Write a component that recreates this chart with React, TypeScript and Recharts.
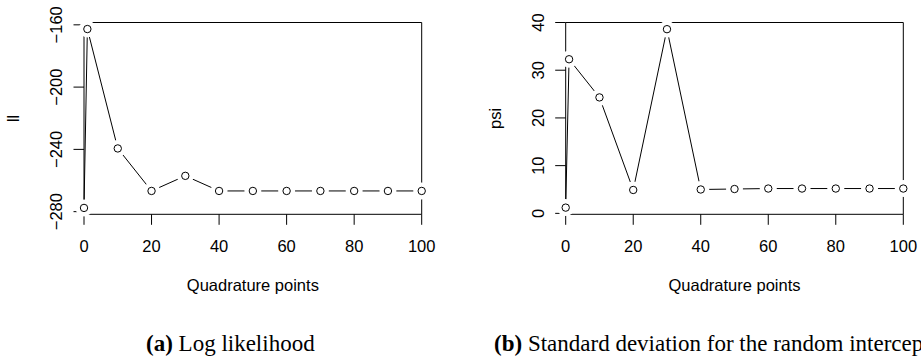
import React from "react";
import {
  LineChart,
  Line,
  XAxis,
  YAxis,
  ReferenceArea,
} from "recharts";

// quadrature points and the two fitted quantities
const quadPoints = [0, 1, 10, 20, 30, 40, 50, 60, 70, 80, 90, 100];
const logLik = [
  -277.6, -162.7, -239.4, -266.7, -257.0, -266.7, -266.7, -266.7, -266.7,
  -266.7, -266.7, -266.7,
];
const psiValues = [1.2, 32.3, 24.3, 4.9, 38.6, 5.0, 5.1, 5.2, 5.2, 5.2, 5.2, 5.2];

const xTicks = [0, 20, 40, 60, 80, 100];
const llTicks = [-280, -240, -200, -160];
const psiTicks = [0, 10, 20, 30, 40];

const FS = 16.5;

const fmt = (v: number) => String(v).replace("-", "\u2212");

// open circle with a white gap round it, like R's type = "b"
const OpenDot = (props: any) => {
  const { cx, cy } = props;
  if (cx == null || cy == null) return null;
  return (
    <g>
      <circle cx={cx} cy={cy} r={8.5} fill="#fff" />
      <circle cx={cx} cy={cy} r={3.7} fill="none" stroke="#000" strokeWidth={1} />
    </g>
  );
};

const RotTick = (props: any) => {
  const { x, y, payload } = props;
  return (
    <text
      x={x}
      y={y}
      transform={`rotate(-90 ${x} ${y})`}
      textAnchor="middle"
      fontSize={FS}
      fill="#000"
    >
      {fmt(payload.value)}
    </text>
  );
};

type PanelProps = {
  values: number[];
  domain: [number, number];
  ticks: number[];
  yLabel: string;
  width: number;
  yAxisWidth: number;
  marginRight: number;
};

const Panel = ({ values, domain, ticks, yLabel, width, yAxisWidth, marginRight }: PanelProps) => {
  const rows = quadPoints.map((q, i) => ({ q, v: values[i] }));
  return (
    <LineChart
      width={width}
      height={300}
      data={rows}
      margin={{ top: 22.5, right: marginRight, left: 0, bottom: 0 }}
    >
      <XAxis
        type="number"
        dataKey="q"
        domain={[0, 100]}
        ticks={xTicks}
        interval={0}
        height={85.7}
        tickSize={10.5}
        tickMargin={15.2}
        axisLine={false}
        tickLine={{ stroke: "#000" }}
        tick={{ fill: "#000", fontSize: FS }}
        label={{
          value: "Quadrature points",
          position: "insideBottom",
          offset: 9.3,
          fill: "#000",
          fontSize: FS,
        }}
      />
      <YAxis
        type="number"
        domain={domain}
        ticks={ticks}
        interval={0}
        width={yAxisWidth}
        tickSize={10.5}
        tickMargin={11.5}
        axisLine={false}
        tickLine={{ stroke: "#000" }}
        tick={<RotTick />}
        label={{
          content: (p: any) => {
            const vb = p.viewBox || { x: 0, y: 22.5, width: yAxisWidth, height: 191.8 };
            const x = vb.x + vb.width - 64.5;
            const y = vb.y + vb.height / 2;
            return (
              <text
                x={x}
                y={y}
                transform={`rotate(-90 ${x} ${y})`}
                textAnchor="middle"
                fontSize={FS}
                fill="#000"
              >
                {yLabel}
              </text>
            );
          },
        }}
      />
      <Line
        type="linear"
        dataKey="v"
        stroke="#000"
        strokeWidth={1}
        dot={<OpenDot />}
        activeDot={false}
        isAnimationActive={false}
      />
      <ReferenceArea
        x1={0}
        x2={100}
        y1={domain[0]}
        y2={domain[1]}
        fill="none"
        fillOpacity={0}
        stroke="#000"
        strokeWidth={1}
        ifOverflow="visible"
      />
    </LineChart>
  );
};

export default function App() {
  return (
    <div
      style={{
        position: "relative",
        width: 921,
        height: 360,
        overflow: "hidden",
        background: "#fff",
        fontFamily: "'Liberation Sans', Arial, sans-serif",
      }}
    >
      <style>{"body{margin:0}"}</style>
      <div style={{ position: "absolute", left: 0, top: 0 }}>
        <Panel
          values={logLik}
          domain={[-281.7, -158.5]}
          ticks={llTicks}
          yLabel="ll"
          width={460}
          yAxisWidth={84}
          marginRight={38.3}
        />
      </div>
      <div style={{ position: "absolute", left: 460, top: 0 }}>
        <Panel
          values={psiValues}
          domain={[-0.2, 40]}
          ticks={psiTicks}
          yLabel="psi"
          width={461}
          yAxisWidth={105.7}
          marginRight={17.7}
        />
      </div>
      <svg
        width={921}
        height={360}
        style={{ position: "absolute", left: 0, top: 0, pointerEvents: "none" }}
      >
        <text
          x={146}
          y={351}
          fontSize={23}
          fontFamily="'Liberation Serif', 'Times New Roman', serif"
          fill="#000"
        >
          <tspan fontWeight="bold">(a)</tspan> Log likelihood
        </text>
        <text
          x={494}
          y={351}
          fontSize={23}
          fontFamily="'Liberation Serif', 'Times New Roman', serif"
          fill="#000"
        >
          <tspan fontWeight="bold">(b)</tspan> Standard deviation for the random intercept
        </text>
      </svg>
    </div>
  );
}
